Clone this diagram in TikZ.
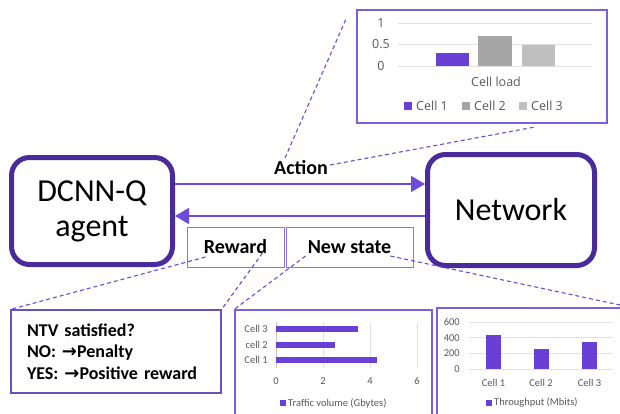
\documentclass[tikz,border=0pt]{standalone}
\usepackage{fontspec}
\setmainfont{Carlito}
\newfontfamily\chartfont{Open Sans}
\newfontfamily\arrowglyph{DejaVu Sans}
\usetikzlibrary{arrows.meta,calc}
\definecolor{boxpurple}{HTML}{4B2A9C}
\definecolor{linkpurple}{HTML}{6B4BDD}
\definecolor{barpurple}{HTML}{6A3FD6}
\definecolor{framepurple}{HTML}{7A5FE0}
\definecolor{labelframe}{HTML}{8C74E6}
\definecolor{gridgray}{HTML}{E0E0E0}
\definecolor{axisgray}{HTML}{C8C8C8}
\definecolor{labelgray}{HTML}{595959}
\definecolor{bargray}{HTML}{A5A5A5}
\definecolor{barlight}{HTML}{BFBFBF}

\begin{document}
\begin{tikzpicture}[x=1pt,y=-1pt,
  mainbox/.style={draw=boxpurple, line width=5pt, rounded corners=18pt, fill=white,
    inner sep=0pt, align=center, font=\fontsize{32}{35}\selectfont},
  tagbox/.style={draw=labelframe, line width=1pt, inner sep=0pt,
    font=\bfseries\fontsize{20}{22}\selectfont},
  tagtext/.style={inner sep=0pt, font=\bfseries\fontsize{20}{22}\selectfont},
  chartbox/.style={draw=framepurple, line width=1.4pt, inner sep=0pt},
  flow/.style={draw=linkpurple, line width=1.2pt, -{Triangle[length=14pt,width=16pt]}},
  linkdash/.style={draw=linkpurple, line width=1.1pt, dash pattern=on 4pt off 3pt},
  grid/.style={draw=gridgray, line width=0.8pt},
  toplabel/.style={inner sep=0pt, text=labelgray, font=\chartfont\fontsize{12.5}{14}\selectfont},
  smalllabel/.style={inner sep=0pt, text=labelgray, font=\fontsize{10.5}{12}\selectfont}
]
\clip (0,0) rectangle (620,413);
\fill[white] (0,0) rectangle (620,413);

% --- main blocks ---
\node[mainbox, minimum width=161pt, minimum height=107pt] (agent) at (92,211) {DCNN-Q\\agent};
\node[mainbox, minimum width=167pt, minimum height=111pt] (net) at (511,210) {Network};

% --- action / feedback arrows (canvas y points up, so +yshift is upward) ---
\draw[flow] ([yshift=27pt]agent.east) -- ([yshift=27pt]agent.east -| net.west);
\draw[flow] ([yshift=-5pt]agent.east -| net.west) -- ([yshift=-5pt]agent.east);

\node[tagtext] (action) at (301,168) {Action};
\node[tagbox, minimum width=97pt, minimum height=40pt] (reward) at (235.5,247) {Reward};
\node[tagbox, minimum width=127pt, minimum height=40pt] (newstate) at (349.5,247) {New state};

% --- reward rule box ---
\node[chartbox, draw=framepurple!85!black, line width=1.2pt, minimum width=210pt, minimum height=83pt,
  text width=178pt, align=left, font=\bfseries\fontsize{18}{21.5}\selectfont] (ntv) at (116,351.5)
  {NTV satisfied?\\NO: {\arrowglyph\bfseries →}Penalty\\YES: {\arrowglyph\bfseries →}Positive reward};

% --- chart frames ---
\node[chartbox, minimum width=250pt, minimum height=113pt] (loadchart) at (482,66.5) {};
\node[chartbox, minimum width=197pt, minimum height=120pt] (trafchart) at (333.5,370) {};
\node[chartbox, minimum width=193pt, minimum height=122pt] (tputchart) at (533.5,369) {};

% --- cell load chart ---
\foreach \v/\yy in {1/23,0.5/44.5,0/66}{
  \draw[grid] (398,\yy) -- (592,\yy);
  \node[toplabel] at (381,\yy) {\v};
}
\fill[barpurple] (436,66) rectangle (469,53.1);
\fill[bargray]   (478,66) rectangle (512,35.9);
\fill[barlight]  (522,66) rectangle (555,44.5);
\node[toplabel] at (496,82) {Cell load};
\fill[barpurple] (404,102) rectangle (412,110);
\node[toplabel, anchor=west] at (416,106) {Cell 1};
\fill[bargray]   (462,102) rectangle (470,110);
\node[toplabel, anchor=west] at (474,106) {Cell 2};
\fill[barlight]  (519,102) rectangle (527,110);
\node[toplabel, anchor=west] at (531,106) {Cell 3};

% --- traffic volume chart ---
\foreach \k in {1,2,3}{
  \draw[grid] ({276+47*\k},322) -- ({276+47*\k},368);
}
\draw[draw=axisgray, line width=0.8pt] (276,322) -- (276,368);
\foreach \k in {0,2,4,6}{
  \node[smalllabel] at ({276+23.5*\k},381) {\k};
}
\fill[barpurple] (276,326) rectangle (358.3,332);
\fill[barpurple] (276,341.5) rectangle (334.8,347.5);
\fill[barpurple] (276,357) rectangle (377.1,363);
\node[smalllabel, anchor=east] at (268,329) {Cell 3};
\node[smalllabel, anchor=east] at (268,344.5) {cell 2};
\node[smalllabel, anchor=east] at (268,360) {Cell 1};
\fill[barpurple] (279.5,400) rectangle (285.5,406);
\node[smalllabel, anchor=west] at (288,403) {Traffic volume (Gbytes)};

% --- throughput chart (47pt per 600 Mbit) ---
\foreach \v in {0,200,400,600}{
  \draw[grid] (469,{369-\v*0.078333}) -- (613,{369-\v*0.078333});
  \node[smalllabel, anchor=east] at (460,{369-\v*0.078333}) {\v};
}
\fill[barpurple] (486,369) rectangle (501,335.3);
\fill[barpurple] (533.5,369) rectangle (548.5,349.4);
\fill[barpurple] (582,369) rectangle (597,341.6);
\node[smalllabel] at (493.5,383) {Cell 1};
\node[smalllabel] at (541,383) {Cell 2};
\node[smalllabel] at (589.5,383) {Cell 3};
\fill[barpurple] (485.5,400) rectangle (491.5,406);
\node[smalllabel, anchor=west] at (494,403) {Throughput (Mbits)};

% --- dashed call-outs ---
\coordinate (loadtail) at (535,127);
\draw[linkdash] ([xshift=-16pt,yshift=10pt]action.center) -- ([xshift=-10pt,yshift=-9pt]loadchart.north west);
\draw[linkdash] ([xshift=29pt,yshift=3pt]action.center) -- (loadtail);
\draw[linkdash] ([xshift=-30pt,yshift=-10pt]reward.center) -- (ntv.north west);
\draw[linkdash] ([xshift=27pt,yshift=-6pt]reward.center) -- (ntv.north east);
\draw[linkdash] ([xshift=-44pt,yshift=-9pt]newstate.center) -- (trafchart.north west);
\draw[linkdash] ([xshift=41pt,yshift=-9pt]newstate.center) -- (tputchart.north east);
\end{tikzpicture}
\end{document}
